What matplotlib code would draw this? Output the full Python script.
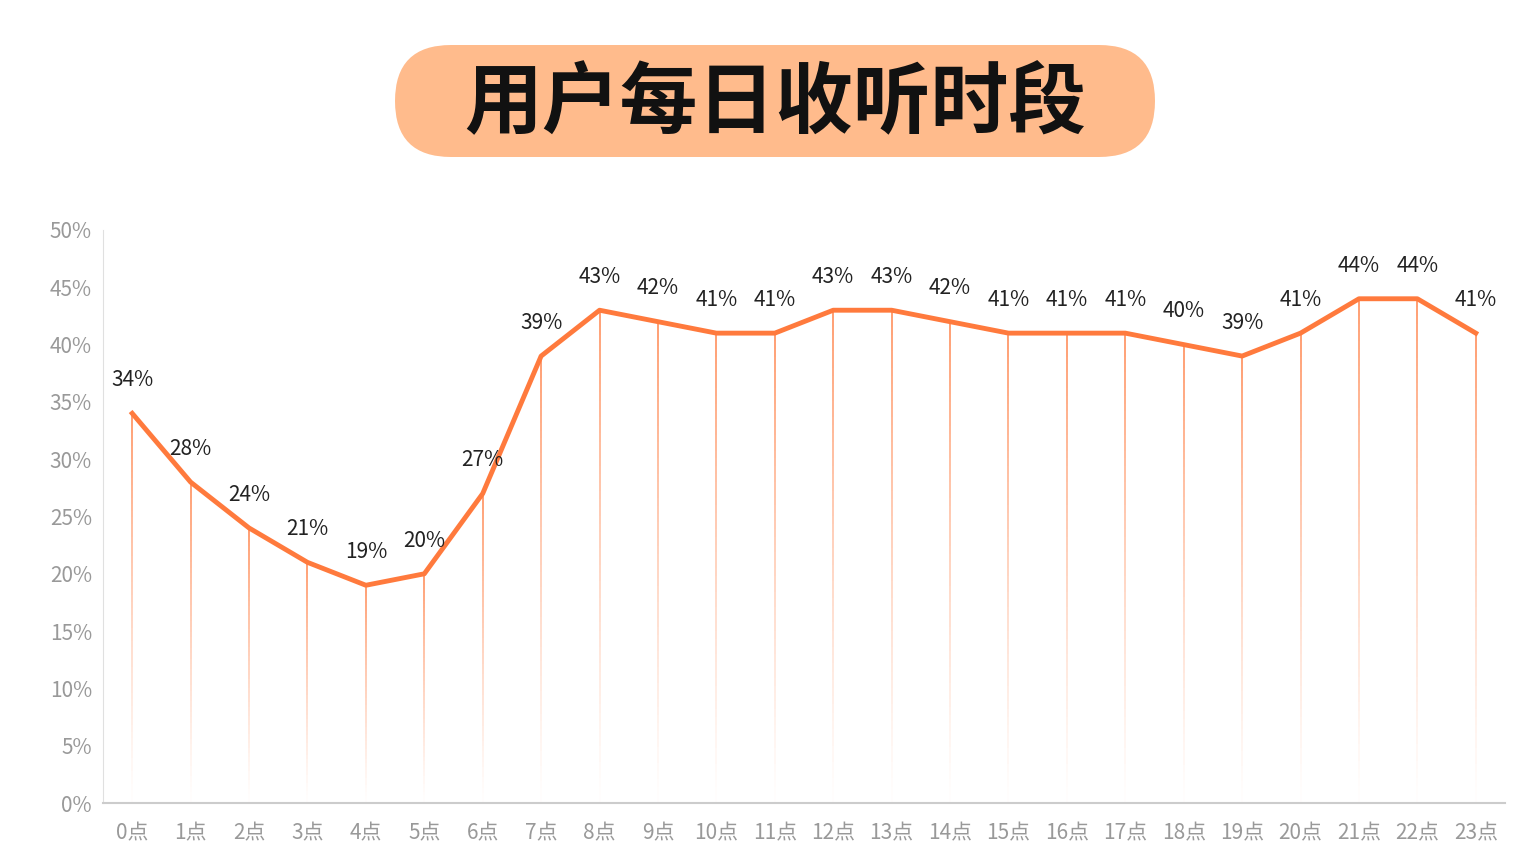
import matplotlib
matplotlib.use("Agg")
import matplotlib.pyplot as plt
import numpy as np
from matplotlib.collections import LineCollection
from matplotlib.patches import FancyBboxPatch

plt.rcParams['font.family'] = ['Noto Sans CJK SC', 'DejaVu Sans']

hours = [f"{i}点" for i in range(24)]
values = [34, 28, 24, 21, 19, 20, 27, 39, 43, 42, 41, 41, 43, 43, 42, 41, 41, 41, 40, 39, 41, 44, 44, 41]
title = "用户每日收听时段"
color = "#FF7A3D"

fig = plt.figure(figsize=(15.36, 8.6), dpi=100)

# background axes in pixel coords for title box
bg = fig.add_axes([0, 0, 1, 1], zorder=0)
bg.set_xlim(0, 1536)
bg.set_ylim(860, 0)
bg.axis('off')
bg.add_patch(FancyBboxPatch((395, 45), 760, 112, boxstyle="round,pad=0,rounding_size=56",
                            facecolor="#FFBB8C", edgecolor='none'))
bg.text(775, 104, title, ha='center', va='center', fontsize=56,
        fontweight='bold', color='#111111')

ax = fig.add_axes([103/1536, 1-803/860, (1505-103)/1536, (803-230)/860], zorder=1)
ax.patch.set_alpha(0)
x = np.arange(len(values))

segs, cols = [], []
n = 60
for xi, v in zip(x, values):
    ys = np.linspace(0, v, n+1)
    for k in range(n):
        segs.append([(xi, ys[k]), (xi, ys[k+1])])
        a = (ys[k+1] / v) ** 1.2 * 0.85
        cols.append((1.0, 0.48, 0.24, a))
ax.add_collection(LineCollection(segs, colors=cols, linewidths=1.2, zorder=1))

ax.plot(x, values, color=color, lw=3.5, zorder=3, solid_joinstyle='round')
for xi, v in zip(x, values):
    ax.annotate(f"{v}%", (xi, v), xytext=(0, 16), textcoords='offset points',
                ha='center', va='bottom', fontsize=15, color='#222222', zorder=4)

ax.set_xlim(-0.5, 23.5)
ax.set_ylim(0, 50)
ax.set_yticks(range(0, 51, 5))
ax.set_yticklabels([f"{t}%" for t in range(0, 51, 5)])
ax.set_xticks(x)
ax.set_xticklabels(hours)
ax.tick_params(axis='both', length=0, labelsize=15, colors='#999999', pad=8)
ax.tick_params(axis='x', pad=14)
for s in ['top', 'right']:
    ax.spines[s].set_visible(False)
ax.spines['left'].set_color('#e0e0e0')
ax.spines['bottom'].set_color('#cccccc')
ax.spines['bottom'].set_linewidth(1.5)

fig.savefig("out.png", dpi=100, facecolor='white')
